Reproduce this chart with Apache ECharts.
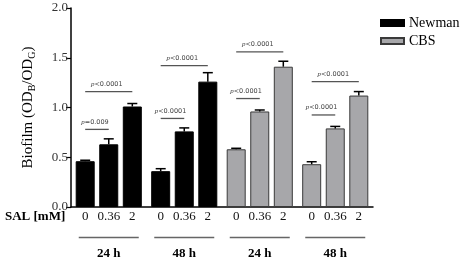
<!DOCTYPE html>
<html>
<head>
<meta charset="utf-8">
<script src="https://cdn.jsdelivr.net/npm/echarts@6/dist/echarts.min.js"></script>
<style>
  html, body { margin: 0; padding: 0; background: #fff; }
  #chart { width: 462px; height: 260px; }
</style>
</head>
<body>
<div id="chart"></div>
<script>
// groups along the x axis
const groups = ['24 h', '48 h', '24 h', '48 h']
const strains = ['Newman', 'Newman', 'CBS', 'CBS']
const salLevels = ['0', '0.36', '2']

// biofilm means per group, one array per SAL level
const mean0 = [0.46, 0.36, 0.58, 0.43]
const mean036 = [0.63, 0.76, 0.96, 0.79]
const mean2 = [1.01, 1.26, 1.41, 1.12]

// error bar (upper) per group
const err0 = [0.01, 0.025, 0.01, 0.025]
const err036 = [0.055, 0.035, 0.015, 0.02]
const err2 = [0.03, 0.09, 0.055, 0.04]

// significance brackets
const bracketGroup = [0, 0, 1, 1, 2, 2, 3, 3]
const bracketFrom = [0, 0, 0, 0, 0, 0, 0, 0]
const bracketTo = [1, 2, 1, 2, 1, 2, 1, 2]
const bracketY = [0.78, 1.16, 0.89, 1.42, 1.09, 1.56, 0.925, 1.26]
const bracketP = ['=0.009', '<0.0001', '<0.0001', '<0.0001', '<0.0001', '<0.0001', '<0.0001', '<0.0001']

const yTicks = [0, 0.5, 1.0, 1.5, 2.0]

const BAR_W = 19
const GAP = 0.24
const STEP = BAR_W * (1 + GAP)
const SERIF = "'Liberation Serif', 'DejaVu Serif', serif"
const colors = { Newman: '#000000', CBS: '#a7a7aa' }

const means = [mean0, mean036, mean2]
const errs = [err0, err036, err2]

let chart = echarts.init(document.getElementById('chart'))

function barCenter(api, cat, level){
    let c = api.coord([cat, 0])
    return c[0] + (level - 1) * STEP
}

// bars: one series per strain and SAL level, stacked by level so they share slots
let barSeries = []
;['Newman', 'CBS'].forEach(strain => {
    salLevels.forEach((lvl, li) => {
        barSeries.push({
            type: 'bar',
            name: strain,
            stack: 'lvl' + li,
            barWidth: BAR_W,
            barGap: (GAP * 100) + '%',
            data: groups.map((g, gi) => strains[gi] === strain ? means[li][gi] : '-'),
            itemStyle: {
                color: colors[strain],
                borderColor: strain === 'CBS' ? '#3a3a3a' : '#000',
                borderWidth: 1
            },
            animation: false
        })
    })
})

let errData = []
groups.forEach((g, gi) => {
    salLevels.forEach((lvl, li) => {
        errData.push([gi, li, means[li][gi], errs[li][gi]])
    })
})

let bracketData = bracketGroup.map((g, i) => [g, bracketFrom[i], bracketTo[i], bracketY[i], i])

let labelData = groups.map((g, gi) => [gi, 0])

let option = {
    animation: false,
    textStyle: { fontFamily: SERIF },
    grid: { left: 71, right: 89, top: 8, bottom: 51.5 },
    legend: {
        data: ['Newman', 'CBS'],
        orient: 'vertical',
        left: 375,
        top: 11,
        itemWidth: 23,
        itemHeight: 6,
        itemGap: 4,
        icon: 'rect',
        textStyle: { fontFamily: SERIF, fontSize: 14, color: '#000' }
    },
    xAxis: {
        type: 'category',
        data: groups,
        axisLine: { lineStyle: { color: '#000', width: 1.5 } },
        axisTick: { show: false },
        axisLabel: {
            margin: 40,
            fontFamily: SERIF,
            fontWeight: 'bold',
            fontSize: 13,
            color: '#000'
        }
    },
    yAxis: {
        type: 'value',
        min: 0,
        max: 2,
        interval: 0.5,
        name: '{a|Biofilm (OD}{s|B}{a|/OD}{s|G}{a|)}',
        nameLocation: 'middle',
        nameGap: 34,
        nameTextStyle: {
            rich: {
                a: { fontFamily: SERIF, fontSize: 15, color: '#000' },
                s: { fontFamily: SERIF, fontSize: 10, color: '#000', padding: [7, 0, 0, 0] }
            }
        },
        splitLine: { show: false },
        axisLine: { show: true, lineStyle: { color: '#000', width: 1.5 } },
        axisTick: { show: true, length: 5, lineStyle: { color: '#000', width: 1.2 } },
        axisLabel: {
            fontFamily: SERIF,
            fontSize: 13,
            color: '#333',
            margin: 3,
            formatter: v => yTicks.indexOf(v) >= 0 ? v.toFixed(1) : ''
        }
    },
    graphic: [{
        type: 'text',
        left: 5,
        top: 210,
        style: { text: 'SAL [mM]', fontFamily: SERIF, fontWeight: 'bold', fontSize: 13, fill: '#000' }
    }],
    series: barSeries.concat([
        {
            type: 'custom',
            name: 'err',
            data: errData,
            encode: { x: 0, y: 2 },
            clip: false,
            z: 5,
            renderItem: (params, api) => {
                let cat = api.value(0)
                let lvl = api.value(1)
                let m = api.value(2)
                let e = api.value(3)
                let x = barCenter(api, cat, lvl)
                let yTop = api.coord([cat, m + e])[1]
                let yBar = api.coord([cat, m])[1]
                let style = { stroke: '#000', lineWidth: 1.5 }
                return {
                    type: 'group',
                    children: [
                        { type: 'line', shape: { x1: x, y1: yBar, x2: x, y2: yTop }, style },
                        { type: 'line', shape: { x1: x - 5, y1: yTop, x2: x + 5, y2: yTop }, style }
                    ]
                }
            }
        },
        {
            type: 'custom',
            name: 'brackets',
            data: bracketData,
            encode: { x: 0, y: 3 },
            clip: false,
            renderItem: (params, api) => {
                let cat = api.value(0)
                let x1 = barCenter(api, cat, api.value(1))
                let x2 = barCenter(api, cat, api.value(2))
                let y = api.coord([cat, api.value(3)])[1]
                let idx = api.value(4)
                return {
                    type: 'group',
                    children: [
                        { type: 'line', shape: { x1: x1, y1: y, x2: x2, y2: y }, style: { stroke: '#555', lineWidth: 1.3 } },
                        {
                            type: 'text',
                            x: (x1 + x2) / 2 - 2,
                            y: y - 4,
                            style: {
                                text: '{i|p}{t|' + bracketP[idx] + '}',
                                align: 'center',
                                verticalAlign: 'bottom',
                                rich: {
                                    i: { fontFamily: SERIF, fontStyle: 'italic', fontSize: 7, fill: '#444' },
                                    t: { fontFamily: "'DejaVu Sans', sans-serif", fontSize: 6.5, fill: '#444' }
                                }
                            }
                        }
                    ]
                }
            }
        },
        {
            type: 'custom',
            name: 'sal',
            data: labelData,
            encode: { x: 0, y: 1 },
            clip: false,
            renderItem: (params, api) => {
                let cat = api.value(0)
                let base = api.coord([cat, 0])
                let children = salLevels.map((lvl, li) => ({
                    type: 'text',
                    x: barCenter(api, cat, li),
                    y: base[1] + 3,
                    style: {
                        text: lvl,
                        align: 'center',
                        verticalAlign: 'top',
                        fontFamily: SERIF,
                        fontSize: 13,
                        fill: '#111'
                    }
                }))
                children.push({
                    type: 'line',
                    shape: { x1: base[0] - 30, y1: base[1] + 30.5, x2: base[0] + 30, y2: base[1] + 30.5 },
                    style: { stroke: '#666', lineWidth: 1.5 }
                })
                return { type: 'group', children }
            }
        }
    ])
}

chart.setOption(option)
</script>
</body>
</html>
